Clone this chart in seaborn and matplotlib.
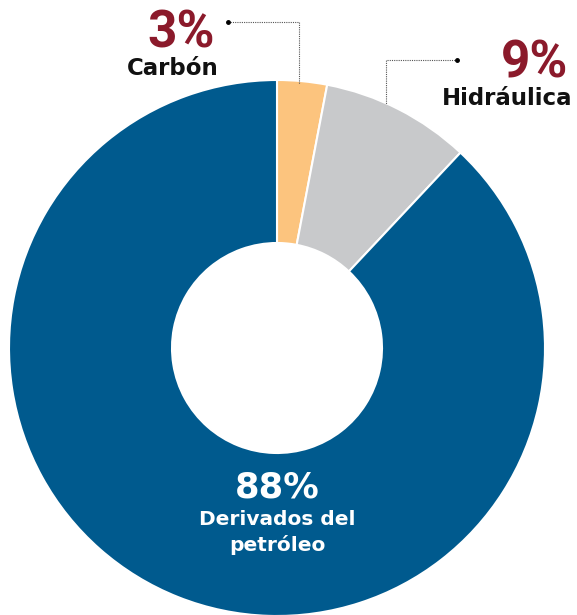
import matplotlib
matplotlib.use("Agg")
import matplotlib.pyplot as plt
import seaborn as sns

categories = ["Carbón", "Hidráulica", "Derivados del", "petróleo"]
values = [3, 9, 88]
pct_labels = ["3%", "9%", "88%"]
colors = ["#FCC47E", "#C8C9CB", "#005A8E"]

sns.set_theme(style="white")
plt.rcParams['font.family'] = ['DejaVu Sans']

W, H = 577, 615
fig = plt.figure(figsize=(W / 100, H / 100), dpi=100)
ax = fig.add_axes([0, 0, 1, 1])

cx, cy, R, r_in = 277, H - 348, 268, 105
ax.pie(values, colors=colors, startangle=90, counterclock=False,
       center=(cx, cy), radius=R,
       wedgeprops=dict(width=R - r_in, edgecolor="white", linewidth=1.5))
ax.set_xlim(0, W)
ax.set_ylim(0, H)
ax.set_aspect("equal")
ax.axis("off")

red = "#8B1A2B"
big = dict(fontsize=37, fontweight="bold", family=["Roboto", "DejaVu Sans"], va="baseline")
lab = dict(fontsize=16.5, fontweight="bold", va="baseline")
# Carbón label
ax.text(181, H - 47, pct_labels[0], color=red, ha="center", **big)
ax.text(172.5, H - 75, categories[0], color="#111111", ha="center", **lab)
# Hidráulica label
ax.text(568, H - 77, pct_labels[1], color=red, ha="right", **big)
ax.text(572, H - 105, categories[1], color="#111111", ha="right", **lab)
# Derivados label
ax.text(277, H - 498, pct_labels[2], color="white", fontsize=25.5, fontweight="bold",
        ha="center", va="baseline")
ax.text(277, H - 525, categories[2], color="white", fontsize=14.5, fontweight="bold",
        ha="center", va="baseline")
ax.text(277, H - 551, categories[3], color="white", fontsize=14.5, fontweight="bold",
        ha="center", va="baseline")

# leader lines
ax.plot([228, 299, 299], [H - 22, H - 22, H - 84], color="#555555", lw=0.8, ls=(0, (1, 1)))
ax.plot([228], [H - 22], "o", color="black", ms=2.5)
ax.plot([457, 386, 386], [H - 60, H - 60, H - 104], color="#555555", lw=0.8, ls=(0, (1, 1)))
ax.plot([457], [H - 60], "o", color="black", ms=2.5)

fig.savefig("out.png", dpi=100)
